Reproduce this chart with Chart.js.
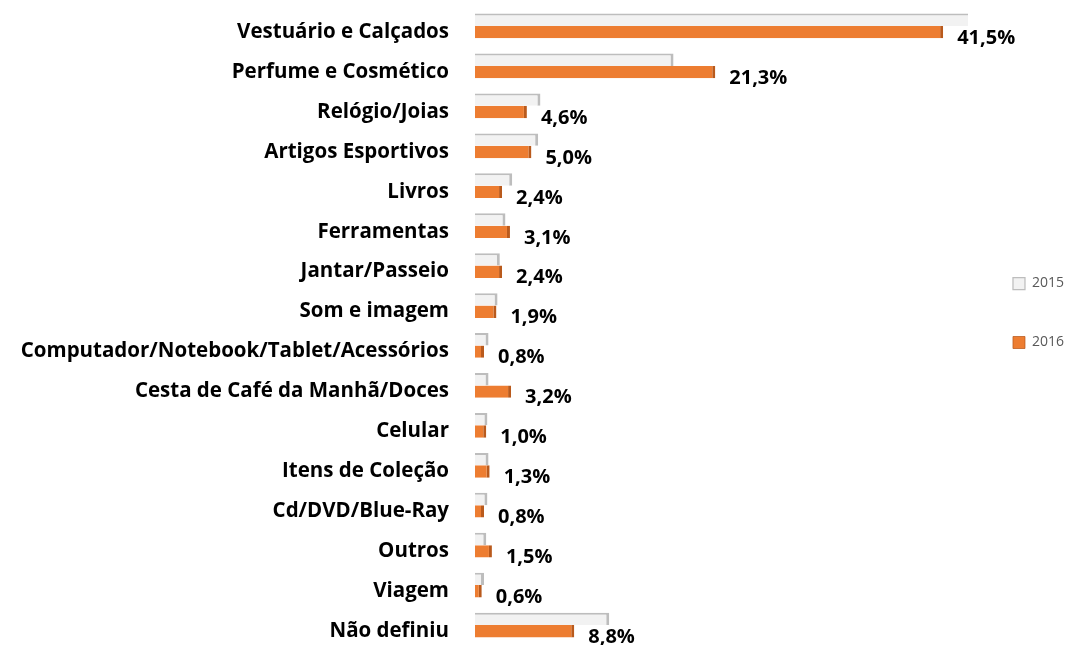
<!DOCTYPE html>
<html>
<head>
<meta charset="utf-8">
<script src="https://cdn.jsdelivr.net/npm/chart.js@4/dist/chart.umd.min.js"></script>
<style>
  html, body { margin: 0; padding: 0; background: #fff; }
  #wrap { width: 1078px; height: 645px; }
</style>
</head>
<body>
<div id="wrap"><canvas id="giftChart"></canvas></div>
<script>
const categories = [
  "Vestuário e Calçados", "Perfume e Cosmético", "Relógio/Joias", "Artigos Esportivos",
  "Livros", "Ferramentas", "Jantar/Passeio", "Som e imagem",
  "Computador/Notebook/Tablet/Acessórios", "Cesta de Café da Manhã/Doces", "Celular",
  "Itens de Coleção", "Cd/DVD/Blue-Ray", "Outros", "Viagem", "Não definiu"
];
const values2015 = [44.5, 17.6, 5.8, 5.6, 3.3, 2.7, 2.2, 2.0, 1.2, 1.2, 1.1, 1.2, 1.1, 1.0, 0.8, 11.9];
const values2016 = [41.5, 21.3, 4.6, 5.0, 2.4, 3.1, 2.4, 1.9, 0.8, 3.2, 1.0, 1.3, 0.8, 1.5, 0.6, 8.8];

// percentage labels next to the 2016 bars
const valueLabels = {
  id: 'valueLabels',
  afterDatasetsDraw(chart) {
    const ctx = chart.ctx;
    const meta = chart.getDatasetMeta(1);
    ctx.save();
    ctx.font = 'bold 20px "Open Sans"';
    ctx.fillStyle = '#000';
    ctx.textBaseline = 'middle';
    meta.data.forEach((bar, i) => {
      const txt = values2016[i].toFixed(1).replace('.', ',') + '%';
      ctx.fillText(txt, bar.x + 14, bar.y + 6);
    });
    ctx.restore();
  }
};

// nudge the legend block up a little (it sits above the middle in the original)
const legendNudge = {
  id: 'legendNudge',
  afterLayout(chart) {
    if (chart.legend) chart.legend.bottom -= 25;
  }
};

new Chart(document.getElementById('giftChart'), {
  type: 'bar',
  data: {
    labels: categories,
    datasets: [{
      label: '2015',
      data: values2015,
      backgroundColor: '#f2f2f2',
      borderColor: '#bdbdbd',
      borderWidth: { top: 2, right: 3, bottom: 0, left: 0 },
      borderSkipped: false
    }, {
      label: '2016',
      data: values2016,
      backgroundColor: '#ed7d31',
      borderColor: '#b95a1c',
      borderWidth: { top: 0, right: 3, bottom: 0, left: 0 },
      borderSkipped: false
    }]
  },
  options: {
    indexAxis: 'y',
    responsive: true,
    maintainAspectRatio: false,
    animation: false,
    layout: { padding: { top: 6, bottom: 0, left: 0, right: 4 } },
    datasets: { bar: { categoryPercentage: 0.62, barPercentage: 1.0 } },
    plugins: {
      tooltip: { enabled: false },
      legend: {
        position: 'right',
        labels: {
          color: '#595959',
          font: { family: 'Open Sans', size: 14 },
          boxWidth: 12,
          boxHeight: 12,
          padding: 45
        }
      }
    },
    scales: {
      x: { display: false, min: 0, max: 43.7 },
      y: {
        afterFit: (scale) => {
          scale.width = 475;
          scale.paddingTop = 0;
          scale.paddingBottom = 0;
        },
        grid: { display: false },
        border: { display: false },
        ticks: {
          color: '#000',
          padding: 18,
          labelOffset: 6,
          font: { family: 'Open Sans', size: 20.5, weight: 'bold' }
        }
      }
    }
  },
  plugins: [valueLabels, legendNudge]
});
</script>
</body>
</html>
